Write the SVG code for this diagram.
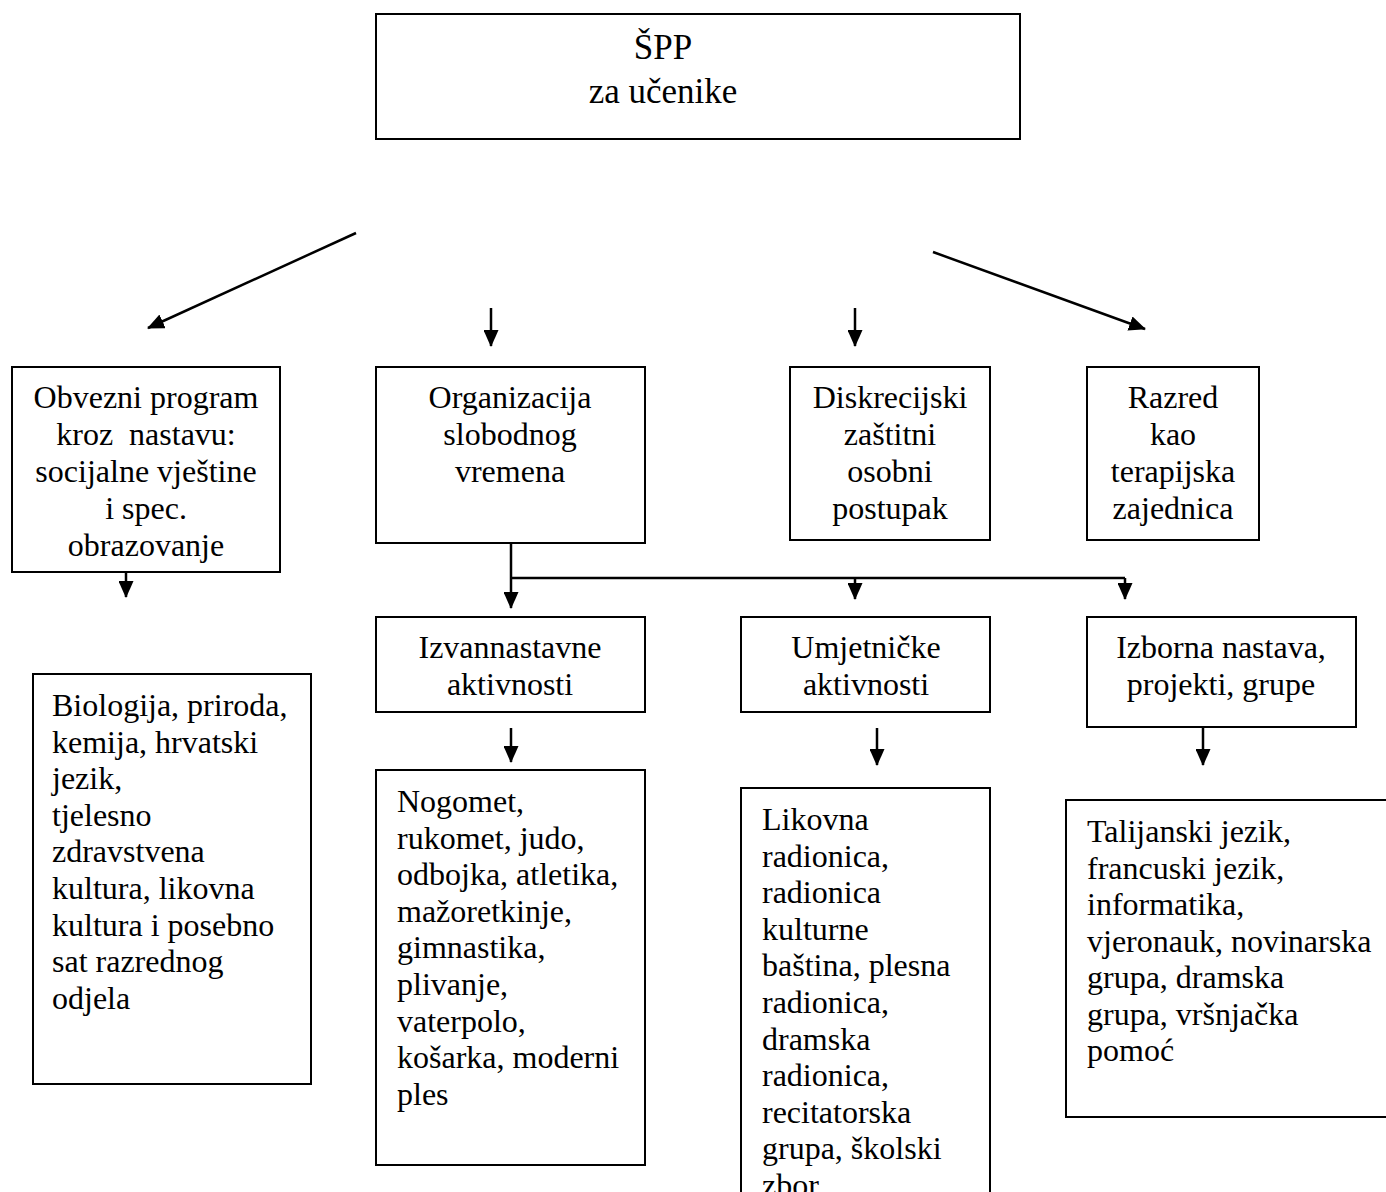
<svg xmlns="http://www.w3.org/2000/svg" width="1386" height="1192" viewBox="0 0 1386 1192">
<style>
rect.box{fill:#fff;stroke:#000;stroke-width:2}
text{font-family:"Liberation Serif","Times New Roman",serif;font-size:32px;fill:#000}
text.c{text-anchor:middle}
text.t{font-size:35px}
.ln{stroke:#000;stroke-width:2.5;fill:none}
</style>
<defs>
<marker id="ah" markerWidth="17" markerHeight="15" refX="16" refY="7.5" orient="auto" markerUnits="userSpaceOnUse">
<path d="M0,0 L17,7.5 L0,15 Z" fill="#000"/>
</marker>
</defs>
<rect width="1386" height="1192" fill="#fff"/>
<g id="connectors">
<line class="ln" x1="356" y1="233" x2="148" y2="328" marker-end="url(#ah)"/>
<line class="ln" x1="491" y1="308" x2="491" y2="346" marker-end="url(#ah)"/>
<line class="ln" x1="855" y1="308" x2="855" y2="346" marker-end="url(#ah)"/>
<line class="ln" x1="933" y1="252" x2="1145" y2="329" marker-end="url(#ah)"/>
<line class="ln" x1="126" y1="572" x2="126" y2="597" marker-end="url(#ah)"/>
<line class="ln" x1="511" y1="533" x2="511" y2="608" marker-end="url(#ah)"/>
<polyline class="ln" points="511,578 1125,578"/>
<line class="ln" x1="855" y1="578" x2="855" y2="599" marker-end="url(#ah)"/>
<line class="ln" x1="1125" y1="578" x2="1125" y2="599" marker-end="url(#ah)"/>
<line class="ln" x1="511" y1="728" x2="511" y2="762" marker-end="url(#ah)"/>
<line class="ln" x1="877" y1="728" x2="877" y2="765" marker-end="url(#ah)"/>
<line class="ln" x1="1203" y1="727" x2="1203" y2="765" marker-end="url(#ah)"/>
</g>
<g id="top">
<rect class="box" x="376" y="14" width="644" height="125"/>
<text class="c t" x="663" y="59">ŠPP</text>
<text class="c t" x="663" y="103">za učenike</text>
</g>
<g id="obvezni">
<rect class="box" x="12" y="367" width="268" height="205"/>
<text class="c" x="146" y="408">Obvezni program</text>
<text class="c" x="146" y="445" xml:space="preserve">kroz  nastavu:</text>
<text class="c" x="146" y="482">socijalne vještine</text>
<text class="c" x="146" y="519">i spec.</text>
<text class="c" x="146" y="556">obrazovanje</text>
</g>
<g id="organizacija">
<rect class="box" x="376" y="367" width="269" height="176"/>
<text class="c" x="510" y="408">Organizacija</text>
<text class="c" x="510" y="445">slobodnog</text>
<text class="c" x="510" y="482">vremena</text>
</g>
<g id="diskrecijski">
<rect class="box" x="790" y="367" width="200" height="173"/>
<text class="c" x="890" y="408">Diskrecijski</text>
<text class="c" x="890" y="445">zaštitni</text>
<text class="c" x="890" y="482">osobni</text>
<text class="c" x="890" y="519">postupak</text>
</g>
<g id="razred">
<rect class="box" x="1087" y="367" width="172" height="173"/>
<text class="c" x="1173" y="408">Razred</text>
<text class="c" x="1173" y="445">kao</text>
<text class="c" x="1173" y="482">terapijska</text>
<text class="c" x="1173" y="519">zajednica</text>
</g>
<g id="izvannastavne">
<rect class="box" x="376" y="617" width="269" height="95"/>
<text class="c" x="510" y="658">Izvannastavne</text>
<text class="c" x="510" y="695">aktivnosti</text>
</g>
<g id="umjetnicke">
<rect class="box" x="741" y="617" width="249" height="95"/>
<text class="c" x="866" y="658">Umjetničke</text>
<text class="c" x="866" y="695">aktivnosti</text>
</g>
<g id="izborna">
<rect class="box" x="1087" y="617" width="269" height="110"/>
<text class="c" x="1221" y="658">Izborna nastava,</text>
<text class="c" x="1221" y="695">projekti, grupe</text>
</g>
<g id="biologija">
<rect class="box" x="33" y="674" width="278" height="410"/>
<text x="52" y="716">Biologija, priroda,</text>
<text x="52" y="753">kemija, hrvatski</text>
<text x="52" y="789">jezik,</text>
<text x="52" y="826">tjelesno</text>
<text x="52" y="862">zdravstvena</text>
<text x="52" y="899">kultura, likovna</text>
<text x="52" y="936">kultura i posebno</text>
<text x="52" y="972">sat razrednog</text>
<text x="52" y="1009">odjela</text>
</g>
<g id="nogomet">
<rect class="box" x="376" y="770" width="269" height="395"/>
<text x="397" y="812">Nogomet,</text>
<text x="397" y="849">rukomet, judo,</text>
<text x="397" y="885">odbojka, atletika,</text>
<text x="397" y="922">mažoretkinje,</text>
<text x="397" y="958">gimnastika,</text>
<text x="397" y="995">plivanje,</text>
<text x="397" y="1032">vaterpolo,</text>
<text x="397" y="1068">košarka, moderni</text>
<text x="397" y="1105">ples</text>
</g>
<g id="likovna">
<rect class="box" x="741" y="788" width="249" height="420"/>
<text x="762" y="830">Likovna</text>
<text x="762" y="867">radionica,</text>
<text x="762" y="903">radionica</text>
<text x="762" y="940">kulturne</text>
<text x="762" y="976">baština, plesna</text>
<text x="762" y="1013">radionica,</text>
<text x="762" y="1050">dramska</text>
<text x="762" y="1086">radionica,</text>
<text x="762" y="1123">recitatorska</text>
<text x="762" y="1159">grupa, školski</text>
<text x="762" y="1196">zbor</text>
</g>
<g id="talijanski">
<rect class="box" x="1066" y="800" width="330" height="317"/>
<text x="1087" y="842">Talijanski jezik,</text>
<text x="1087" y="879">francuski jezik,</text>
<text x="1087" y="915">informatika,</text>
<text x="1087" y="952">vjeronauk, novinarska</text>
<text x="1087" y="988">grupa, dramska</text>
<text x="1087" y="1025">grupa, vršnjačka</text>
<text x="1087" y="1061">pomoć</text>
</g>
</svg>
